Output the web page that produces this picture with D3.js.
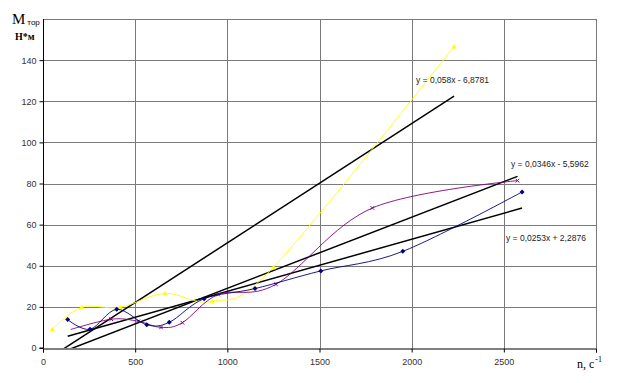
<!DOCTYPE html>
<html><head><meta charset="utf-8">
<script src="https://cdn.jsdelivr.net/npm/d3@7/dist/d3.min.js"></script>
<style>
html,body{margin:0;padding:0;background:#fff;}
svg{display:block;}
</style></head>
<body>
<script>
// ---- data ----
const xTicks = [0, 500, 1000, 1500, 2000, 2500];
const yTicks = [0, 20, 40, 60, 80, 100, 120, 140];
const blueX = [134, 255, 400, 563, 685, 874, 1150, 1507, 1952, 2599];
const blueY = [13.8, 9.1, 18.8, 11.3, 12.5, 24, 28.9, 37.5, 47, 75.9];
const purpleX = [150, 370, 517, 640, 756, 950, 1264, 1787, 2574];
const purpleY = [9, 14, 13, 10, 12.3, 26, 31, 68.1, 81.4];
const yellowX = [51, 210, 418, 662, 919, 1250, 2230];
const yellowY = [9.1, 19.8, 19.8, 26.6, 22.7, 39.3, 146.6];
const trendSlope = [0.058, 0.0346, 0.0253];
const trendIntercept = [-6.8781, -5.5962, 2.2876];
const trendLabels = ["y = 0,058x - 6,8781", "y = 0,0346x - 5,5962", "y = 0,0253x + 2,2876"];

// ---- layout ----
const W = 617, H = 383;
const L = 43, R = 596, T = 19, B = 348;
const svg = d3.select("body").append("svg").attr("width", W).attr("height", H);
const x = d3.scaleLinear().domain([0, 3000]).range([L, R]);
const y = d3.scaleLinear().domain([0, 160]).range([B, T]);

svg.append("defs").append("clipPath").attr("id", "plot")
  .append("rect").attr("x", L).attr("y", T).attr("width", R - L).attr("height", B - T);

// grid
const gridColor = "#7a7a7a";
svg.append("g").selectAll("line").data(d3.range(20, 161, 20)).join("line")
  .attr("x1", L).attr("x2", R).attr("y1", d => Math.round(y(d)) + 0.5).attr("y2", d => Math.round(y(d)) + 0.5)
  .attr("stroke", gridColor).attr("stroke-width", 1);
svg.append("g").selectAll("line").data(d3.range(500, 3001, 500)).join("line")
  .attr("x1", d => Math.round(x(d)) + 0.5).attr("x2", d => Math.round(x(d)) + 0.5)
  .attr("y1", T).attr("y2", B)
  .attr("stroke", gridColor).attr("stroke-width", 1);

// axes
const xAxis = d3.axisBottom(x).tickValues(d3.range(0, 3001, 500)).tickSize(4)
  .tickFormat(d => xTicks.includes(d) ? d : "");
const gx = svg.append("g").attr("transform", `translate(0,${B + 0.5})`).call(xAxis);
const yAxis = d3.axisLeft(y).tickValues(yTicks).tickSize(4).tickFormat(d => d);
const gy = svg.append("g").attr("transform", `translate(${L + 0.5},0)`).call(yAxis);
[gx, gy].forEach(g => {
  g.select(".domain").attr("stroke", "#000");
  g.selectAll(".tick line").attr("stroke", "#000");
  g.selectAll("text").attr("font-family", "Arial, 'Liberation Sans', sans-serif")
    .attr("font-size", 9).attr("fill", "#333");
});
gy.select(".domain").attr("d", `M-4,${B}H0V${T}`);
gx.selectAll("text").attr("dy", "1.1em");

const plot = svg.append("g").attr("clip-path", "url(#plot)");

function series(xs, ys, color) {
  const pts = xs.map((v, i) => [x(v), y(ys[i])]);
  plot.append("path").attr("d", d3.line().curve(d3.curveCardinal.tension(0))(pts))
    .attr("fill", "none").attr("stroke", color).attr("stroke-width", 0.9);
  return pts;
}

// trend lines
const trendSeries = [yellowX, purpleX, blueX];
trendSlope.forEach((m, i) => {
  const xs = trendSeries[i];
  const x0 = d3.min(xs), x1 = d3.max(xs);
  plot.append("line")
    .attr("x1", x(x0)).attr("y1", y(m * x0 + trendIntercept[i]))
    .attr("x2", x(x1)).attr("y2", y(m * x1 + trendIntercept[i]))
    .attr("stroke", "#000").attr("stroke-width", 1.5);
});

// series
const yp = series(yellowX, yellowY, "#FFFF00");
plot.append("g").selectAll("path").data(yp).join("path")
  .attr("d", d => `M${d[0]},${d[1] - 2.5}L${d[0] + 2.5},${d[1] + 2}L${d[0] - 2.5},${d[1] + 2}Z`)
  .attr("fill", "#FFFF00");

const pp = series(purpleX, purpleY, "#800080");
plot.append("g").selectAll("path").data(pp.slice(1)).join("path")
  .attr("d", d => `M${d[0] - 1.8},${d[1] - 1.8}L${d[0] + 1.8},${d[1] + 1.8}M${d[0] + 1.8},${d[1] - 1.8}L${d[0] - 1.8},${d[1] + 1.8}`)
  .attr("stroke", "#800080").attr("stroke-width", 1);

const bp = series(blueX, blueY, "#000080");
plot.append("g").selectAll("path").data(bp).join("path")
  .attr("d", d => `M${d[0]},${d[1] - 2.5}L${d[0] + 2.5},${d[1]}L${d[0]},${d[1] + 2.5}L${d[0] - 2.5},${d[1]}Z`)
  .attr("fill", "#000080");

// trend labels
const labelPos = [[416, 83], [511, 167], [506, 241]];
trendLabels.forEach((t, i) => {
  svg.append("text").attr("x", labelPos[i][0]).attr("y", labelPos[i][1])
    .attr("font-family", "Arial, 'Liberation Sans', sans-serif").attr("font-size", 8.5)
    .attr("fill", "#222").text(t);
});

// axis titles
const yt = svg.append("text").attr("x", 12).attr("y", 24)
  .attr("font-family", "'Times New Roman', 'Liberation Serif', serif").attr("font-size", 15);
yt.append("tspan").text("M");
yt.append("tspan").attr("font-size", 8).attr("dx", 2).attr("dy", 1)
  .attr("font-family", "Arial, 'Liberation Sans', sans-serif").text("тор");
svg.append("text").attr("x", 15).attr("y", 40)
  .attr("font-family", "'Times New Roman', 'Liberation Serif', serif").attr("font-size", 10)
  .attr("font-weight", "bold").text("Н*м");

const xt = svg.append("text").attr("x", 577).attr("y", 368)
  .attr("font-family", "'Times New Roman', 'Liberation Serif', serif").attr("font-size", 12);
xt.append("tspan").text("n, c");
xt.append("tspan").attr("font-size", 8).attr("dy", -6).attr("dx", 1).text("-1");
</script>
</body></html>
